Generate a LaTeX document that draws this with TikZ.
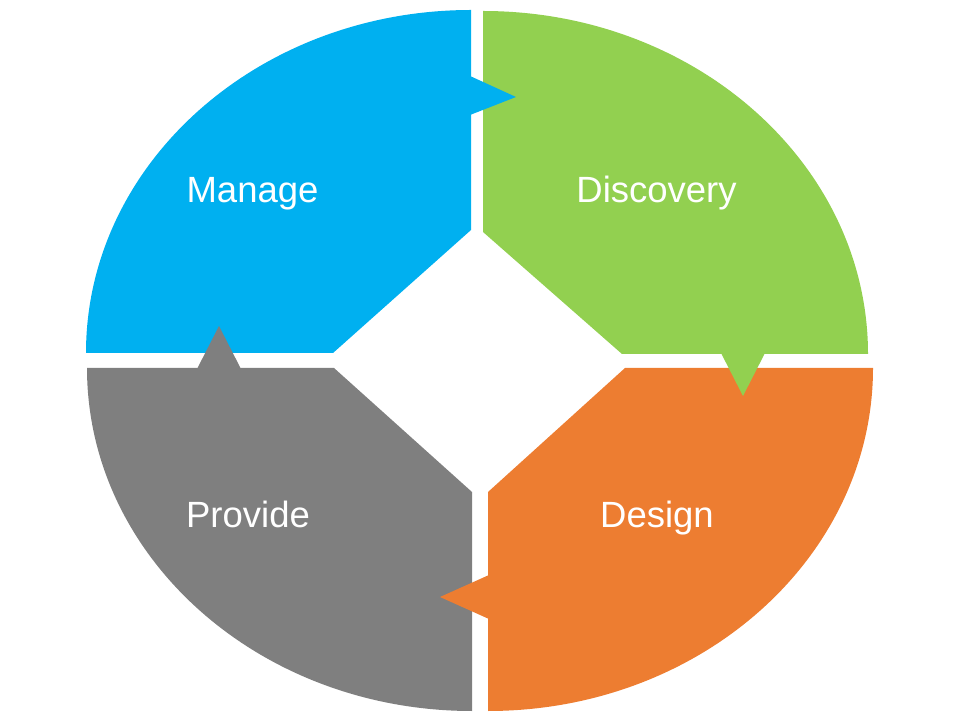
\documentclass[tikz,border=0pt]{standalone}
\usepackage{fontspec}
\setmainfont{Liberation Sans}
\definecolor{cblue}{HTML}{00B0F0}
\definecolor{cgreen}{HTML}{92D050}
\definecolor{corange}{HTML}{ED7D31}
\definecolor{cgray}{HTML}{7F7F7F}
\begin{document}
\begin{tikzpicture}[x=1pt,y=1pt,
  lbl/.style={text=white,anchor=base,inner sep=0pt,font=\fontsize{36.5}{40}\selectfont}]
\useasboundingbox (0,0) rectangle (960,720);
% Manage (blue)
\fill[cblue] (471,710) arc[start angle=90,end angle=180,x radius=385,y radius=343]
  -- (333,367) -- (471,490) -- cycle;
% Discovery (green)
\fill[cgreen] (483,709) arc[start angle=90,end angle=0,x radius=385,y radius=343]
  -- (622,366) -- (483,488) -- cycle;
% Provide (gray)
\fill[cgray] (87,352) arc[start angle=180,end angle=270,x radius=385,y radius=343]
  -- (472,228) -- (334,352) -- cycle;
% Design (orange)
\fill[corange] (488,9) arc[start angle=270,end angle=360,x radius=385,y radius=343]
  -- (625,352) -- (488,228) -- cycle;
% arrow tabs, on top of the neighbouring pieces
\fill[cblue] (470,605) -- (516,623) -- (470,644) -- cycle;
\fill[cgreen] (765,367) -- (743,324) -- (721,367) -- cycle;
\fill[cgray] (241,351) -- (219,394) -- (197,351) -- cycle;
\fill[corange] (489,145) -- (440,123) -- (489,101) -- cycle;
\node[lbl] (manage) at (252.5,517) {Manage};
\node[lbl] (discovery) at (656.5,517) {Discovery};
\node[lbl] (provide) at (248,192) {Provide};
\node[lbl] (design) at (657,192) {Design};
\end{tikzpicture}
\end{document}
